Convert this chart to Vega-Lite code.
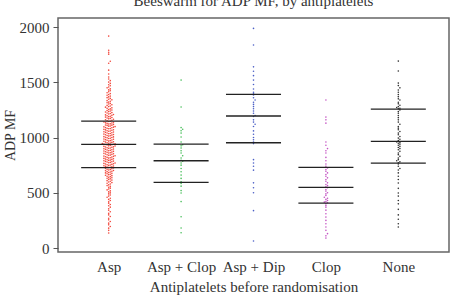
{
  "$schema": "https://vega.github.io/schema/vega-lite/v6.json",
  "width": 391,
  "height": 234,
  "autosize": {"type": "none"},
  "padding": {"left": 58, "top": 18, "right": 2, "bottom": 46},
  "background": "white",
  "title": {
    "text": "Beeswarm for ADP MF, by antiplatelets",
    "font": "Liberation Serif",
    "fontSize": 15,
    "fontWeight": "normal",
    "color": "#333",
    "anchor": "middle",
    "frame": "group",
    "baseline": "alphabetic",
    "offset": -3
  },
  "config": {
    "view": {"stroke": "#666", "strokeWidth": 1.5},
    "axis": {
      "labelFont": "Liberation Serif",
      "titleFont": "Liberation Serif",
      "labelColor": "#333",
      "titleColor": "#333",
      "titleFontWeight": "normal",
      "grid": false
    }
  },
  "datasets": {
    "pts": [
      {"g":"Asp","v":1918},{"g":"Asp","v":1790},{"g":"Asp","v":1772},{"g":"Asp","v":1755},{"g":"Asp","v":1690},{"g":"Asp","v":1672},{"g":"Asp","v":1610},{"g":"Asp","v":1575},{"g":"Asp","v":1548},{"g":"Asp","v":1530},
      {"g":"Asp","v":1515},{"g":"Asp","v":1502},{"g":"Asp","v":1490},{"g":"Asp","v":1478},{"g":"Asp","v":1469},{"g":"Asp","v":1458},{"g":"Asp","v":1450},{"g":"Asp","v":1440},{"g":"Asp","v":1431},{"g":"Asp","v":1424},
      {"g":"Asp","v":1415},{"g":"Asp","v":1406},{"g":"Asp","v":1398},{"g":"Asp","v":1390},{"g":"Asp","v":1383},{"g":"Asp","v":1375},{"g":"Asp","v":1368},{"g":"Asp","v":1361},{"g":"Asp","v":1354},{"g":"Asp","v":1347},
      {"g":"Asp","v":1341},{"g":"Asp","v":1334},{"g":"Asp","v":1328},{"g":"Asp","v":1321},{"g":"Asp","v":1315},{"g":"Asp","v":1309},{"g":"Asp","v":1303},{"g":"Asp","v":1297},{"g":"Asp","v":1291},{"g":"Asp","v":1286},
      {"g":"Asp","v":1280},{"g":"Asp","v":1275},{"g":"Asp","v":1269},{"g":"Asp","v":1264},{"g":"Asp","v":1259},{"g":"Asp","v":1254},{"g":"Asp","v":1249},{"g":"Asp","v":1244},{"g":"Asp","v":1240},{"g":"Asp","v":1235},
      {"g":"Asp","v":1231},{"g":"Asp","v":1226},{"g":"Asp","v":1222},{"g":"Asp","v":1218},{"g":"Asp","v":1213},{"g":"Asp","v":1209},{"g":"Asp","v":1205},{"g":"Asp","v":1201},{"g":"Asp","v":1197},{"g":"Asp","v":1193},
      {"g":"Asp","v":1189},{"g":"Asp","v":1185},{"g":"Asp","v":1181},{"g":"Asp","v":1177},{"g":"Asp","v":1173},{"g":"Asp","v":1169},{"g":"Asp","v":1165},{"g":"Asp","v":1161},{"g":"Asp","v":1157},{"g":"Asp","v":1152},
      {"g":"Asp","v":1147},{"g":"Asp","v":1145},{"g":"Asp","v":1141},{"g":"Asp","v":1138},{"g":"Asp","v":1133},{"g":"Asp","v":1131},{"g":"Asp","v":1128},{"g":"Asp","v":1124},{"g":"Asp","v":1122},{"g":"Asp","v":1119},
      {"g":"Asp","v":1114},{"g":"Asp","v":1112},{"g":"Asp","v":1110},{"g":"Asp","v":1105},{"g":"Asp","v":1103},{"g":"Asp","v":1099},{"g":"Asp","v":1097},{"g":"Asp","v":1094},{"g":"Asp","v":1090},{"g":"Asp","v":1088},
      {"g":"Asp","v":1083},{"g":"Asp","v":1081},{"g":"Asp","v":1079},{"g":"Asp","v":1074},{"g":"Asp","v":1071},{"g":"Asp","v":1069},{"g":"Asp","v":1066},{"g":"Asp","v":1062},{"g":"Asp","v":1059},{"g":"Asp","v":1057},
      {"g":"Asp","v":1052},{"g":"Asp","v":1050},{"g":"Asp","v":1047},{"g":"Asp","v":1043},{"g":"Asp","v":1041},{"g":"Asp","v":1036},{"g":"Asp","v":1034},{"g":"Asp","v":1031},{"g":"Asp","v":1028},{"g":"Asp","v":1025},
      {"g":"Asp","v":1022},{"g":"Asp","v":1018},{"g":"Asp","v":1016},{"g":"Asp","v":1013},{"g":"Asp","v":1008},{"g":"Asp","v":1006},{"g":"Asp","v":1003},{"g":"Asp","v":1000},{"g":"Asp","v":997},{"g":"Asp","v":993},
      {"g":"Asp","v":991},{"g":"Asp","v":987},{"g":"Asp","v":984},{"g":"Asp","v":981},{"g":"Asp","v":978},{"g":"Asp","v":975},{"g":"Asp","v":972},{"g":"Asp","v":968},{"g":"Asp","v":966},{"g":"Asp","v":962},
      {"g":"Asp","v":959},{"g":"Asp","v":956},{"g":"Asp","v":953},{"g":"Asp","v":951},{"g":"Asp","v":948},{"g":"Asp","v":945},{"g":"Asp","v":943},{"g":"Asp","v":941},{"g":"Asp","v":939},{"g":"Asp","v":937},
      {"g":"Asp","v":935},{"g":"Asp","v":932},{"g":"Asp","v":929},{"g":"Asp","v":925},{"g":"Asp","v":923},{"g":"Asp","v":920},{"g":"Asp","v":916},{"g":"Asp","v":914},{"g":"Asp","v":911},{"g":"Asp","v":907},
      {"g":"Asp","v":905},{"g":"Asp","v":902},{"g":"Asp","v":898},{"g":"Asp","v":896},{"g":"Asp","v":893},{"g":"Asp","v":889},{"g":"Asp","v":887},{"g":"Asp","v":884},{"g":"Asp","v":880},{"g":"Asp","v":878},
      {"g":"Asp","v":875},{"g":"Asp","v":871},{"g":"Asp","v":868},{"g":"Asp","v":866},{"g":"Asp","v":862},{"g":"Asp","v":860},{"g":"Asp","v":857},{"g":"Asp","v":853},{"g":"Asp","v":851},{"g":"Asp","v":848},
      {"g":"Asp","v":844},{"g":"Asp","v":841},{"g":"Asp","v":839},{"g":"Asp","v":835},{"g":"Asp","v":832},{"g":"Asp","v":830},{"g":"Asp","v":826},{"g":"Asp","v":823},{"g":"Asp","v":820},{"g":"Asp","v":817},
      {"g":"Asp","v":814},{"g":"Asp","v":811},{"g":"Asp","v":808},{"g":"Asp","v":805},{"g":"Asp","v":802},{"g":"Asp","v":799},{"g":"Asp","v":796},{"g":"Asp","v":793},{"g":"Asp","v":790},{"g":"Asp","v":787},
      {"g":"Asp","v":784},{"g":"Asp","v":781},{"g":"Asp","v":778},{"g":"Asp","v":775},{"g":"Asp","v":772},{"g":"Asp","v":769},{"g":"Asp","v":766},{"g":"Asp","v":763},{"g":"Asp","v":760},{"g":"Asp","v":757},
      {"g":"Asp","v":754},{"g":"Asp","v":751},{"g":"Asp","v":748},{"g":"Asp","v":745},{"g":"Asp","v":742},{"g":"Asp","v":739},{"g":"Asp","v":736},{"g":"Asp","v":733},{"g":"Asp","v":730},{"g":"Asp","v":728},
      {"g":"Asp","v":724},{"g":"Asp","v":720},{"g":"Asp","v":717},{"g":"Asp","v":713},{"g":"Asp","v":710},{"g":"Asp","v":706},{"g":"Asp","v":702},{"g":"Asp","v":699},{"g":"Asp","v":695},{"g":"Asp","v":691},
      {"g":"Asp","v":688},{"g":"Asp","v":684},{"g":"Asp","v":680},{"g":"Asp","v":676},{"g":"Asp","v":672},{"g":"Asp","v":668},{"g":"Asp","v":664},{"g":"Asp","v":659},{"g":"Asp","v":655},{"g":"Asp","v":650},
      {"g":"Asp","v":646},{"g":"Asp","v":641},{"g":"Asp","v":636},{"g":"Asp","v":631},{"g":"Asp","v":626},{"g":"Asp","v":621},{"g":"Asp","v":615},{"g":"Asp","v":610},{"g":"Asp","v":604},{"g":"Asp","v":598},
      {"g":"Asp","v":592},{"g":"Asp","v":586},{"g":"Asp","v":579},{"g":"Asp","v":572},{"g":"Asp","v":565},{"g":"Asp","v":558},{"g":"Asp","v":550},{"g":"Asp","v":542},{"g":"Asp","v":534},{"g":"Asp","v":526},
      {"g":"Asp","v":517},{"g":"Asp","v":508},{"g":"Asp","v":499},{"g":"Asp","v":490},{"g":"Asp","v":480},{"g":"Asp","v":470},{"g":"Asp","v":460},{"g":"Asp","v":450},{"g":"Asp","v":440},{"g":"Asp","v":430},
      {"g":"Asp","v":418},{"g":"Asp","v":406},{"g":"Asp","v":394},{"g":"Asp","v":382},{"g":"Asp","v":370},{"g":"Asp","v":356},{"g":"Asp","v":342},{"g":"Asp","v":328},{"g":"Asp","v":314},{"g":"Asp","v":300},
      {"g":"Asp","v":285},{"g":"Asp","v":270},{"g":"Asp","v":255},{"g":"Asp","v":240},{"g":"Asp","v":225},{"g":"Asp","v":210},{"g":"Asp","v":195},{"g":"Asp","v":180},{"g":"Asp","v":160},{"g":"Asp","v":136},

      {"g":"Asp + Clop","v":1520},{"g":"Asp + Clop","v":1276},{"g":"Asp + Clop","v":1090},{"g":"Asp + Clop","v":1075},{"g":"Asp + Clop","v":1062},{"g":"Asp + Clop","v":1040},{"g":"Asp + Clop","v":1005},{"g":"Asp + Clop","v":960},
      {"g":"Asp + Clop","v":935},{"g":"Asp + Clop","v":925},{"g":"Asp + Clop","v":905},{"g":"Asp + Clop","v":880},{"g":"Asp + Clop","v":860},{"g":"Asp + Clop","v":835},{"g":"Asp + Clop","v":815},{"g":"Asp + Clop","v":795},
      {"g":"Asp + Clop","v":785},{"g":"Asp + Clop","v":770},{"g":"Asp + Clop","v":750},{"g":"Asp + Clop","v":720},{"g":"Asp + Clop","v":690},{"g":"Asp + Clop","v":660},{"g":"Asp + Clop","v":630},{"g":"Asp + Clop","v":600},
      {"g":"Asp + Clop","v":585},{"g":"Asp + Clop","v":560},{"g":"Asp + Clop","v":520},{"g":"Asp + Clop","v":498},{"g":"Asp + Clop","v":420},{"g":"Asp + Clop","v":283},{"g":"Asp + Clop","v":181},{"g":"Asp + Clop","v":138},

      {"g":"Asp + Dip","v":1988},{"g":"Asp + Dip","v":1837},{"g":"Asp + Dip","v":1640},{"g":"Asp + Dip","v":1600},{"g":"Asp + Dip","v":1560},{"g":"Asp + Dip","v":1520},{"g":"Asp + Dip","v":1480},{"g":"Asp + Dip","v":1439},{"g":"Asp + Dip","v":1410},{"g":"Asp + Dip","v":1395},
      {"g":"Asp + Dip","v":1385},{"g":"Asp + Dip","v":1360},{"g":"Asp + Dip","v":1340},{"g":"Asp + Dip","v":1320},{"g":"Asp + Dip","v":1300},{"g":"Asp + Dip","v":1280},{"g":"Asp + Dip","v":1260},{"g":"Asp + Dip","v":1240},{"g":"Asp + Dip","v":1220},{"g":"Asp + Dip","v":1200},
      {"g":"Asp + Dip","v":1190},{"g":"Asp + Dip","v":1160},{"g":"Asp + Dip","v":1140},{"g":"Asp + Dip","v":1120},{"g":"Asp + Dip","v":1100},{"g":"Asp + Dip","v":1060},{"g":"Asp + Dip","v":1030},{"g":"Asp + Dip","v":1000},{"g":"Asp + Dip","v":980},{"g":"Asp + Dip","v":960},
      {"g":"Asp + Dip","v":945},{"g":"Asp + Dip","v":800},{"g":"Asp + Dip","v":770},{"g":"Asp + Dip","v":740},{"g":"Asp + Dip","v":705},{"g":"Asp + Dip","v":590},{"g":"Asp + Dip","v":545},{"g":"Asp + Dip","v":500},{"g":"Asp + Dip","v":338},{"g":"Asp + Dip","v":63},

      {"g":"Clop","v":1340},{"g":"Clop","v":1185},{"g":"Clop","v":1160},{"g":"Clop","v":1130},{"g":"Clop","v":960},{"g":"Clop","v":930},{"g":"Clop","v":900},{"g":"Clop","v":880},{"g":"Clop","v":860},{"g":"Clop","v":820},{"g":"Clop","v":790},{"g":"Clop","v":760},{"g":"Clop","v":740},
      {"g":"Clop","v":725},{"g":"Clop","v":710},{"g":"Clop","v":695},{"g":"Clop","v":680},{"g":"Clop","v":665},{"g":"Clop","v":650},{"g":"Clop","v":635},{"g":"Clop","v":620},{"g":"Clop","v":605},{"g":"Clop","v":590},{"g":"Clop","v":575},{"g":"Clop","v":565},{"g":"Clop","v":555},
      {"g":"Clop","v":545},{"g":"Clop","v":530},{"g":"Clop","v":515},{"g":"Clop","v":500},{"g":"Clop","v":490},{"g":"Clop","v":475},{"g":"Clop","v":460},{"g":"Clop","v":450},{"g":"Clop","v":440},{"g":"Clop","v":430},{"g":"Clop","v":420},{"g":"Clop","v":415},{"g":"Clop","v":410},
      {"g":"Clop","v":400},{"g":"Clop","v":385},{"g":"Clop","v":370},{"g":"Clop","v":343},{"g":"Clop","v":310},{"g":"Clop","v":280},{"g":"Clop","v":250},{"g":"Clop","v":220},{"g":"Clop","v":190},{"g":"Clop","v":160},{"g":"Clop","v":130},{"g":"Clop","v":110},{"g":"Clop","v":90},

      {"g":"None","v":1692},{"g":"None","v":1602},{"g":"None","v":1493},{"g":"None","v":1470},{"g":"None","v":1450},{"g":"None","v":1430},{"g":"None","v":1410},{"g":"None","v":1390},{"g":"None","v":1370},{"g":"None","v":1350},{"g":"None","v":1340},{"g":"None","v":1320},{"g":"None","v":1305},{"g":"None","v":1292},{"g":"None","v":1280},{"g":"None","v":1272},{"g":"None","v":1265},{"g":"None","v":1260},
      {"g":"None","v":1250},{"g":"None","v":1235},{"g":"None","v":1220},{"g":"None","v":1200},{"g":"None","v":1180},{"g":"None","v":1160},{"g":"None","v":1140},{"g":"None","v":1120},{"g":"None","v":1100},{"g":"None","v":1085},{"g":"None","v":1070},{"g":"None","v":1055},{"g":"None","v":1040},{"g":"None","v":1025},{"g":"None","v":1010},{"g":"None","v":995},{"g":"None","v":985},{"g":"None","v":972},
      {"g":"None","v":960},{"g":"None","v":955},{"g":"None","v":948},{"g":"None","v":940},{"g":"None","v":930},{"g":"None","v":920},{"g":"None","v":910},{"g":"None","v":900},{"g":"None","v":890},{"g":"None","v":875},{"g":"None","v":860},{"g":"None","v":845},{"g":"None","v":830},{"g":"None","v":815},{"g":"None","v":800},{"g":"None","v":790},{"g":"None","v":780},{"g":"None","v":772},
      {"g":"None","v":760},{"g":"None","v":740},{"g":"None","v":720},{"g":"None","v":706},{"g":"None","v":680},{"g":"None","v":650},{"g":"None","v":620},{"g":"None","v":588},{"g":"None","v":540},{"g":"None","v":498},{"g":"None","v":470},{"g":"None","v":430},{"g":"None","v":400},{"g":"None","v":350},{"g":"None","v":300},{"g":"None","v":260},{"g":"None","v":220},{"g":"None","v":190}
    ],
    "stats": [
      {"g":"Asp","q":"Q1","v":727},{"g":"Asp","q":"Median","v":938},{"g":"Asp","q":"Q3","v":1149},
      {"g":"Asp + Clop","q":"Q1","v":594},{"g":"Asp + Clop","q":"Median","v":790},{"g":"Asp + Clop","q":"Q3","v":941},
      {"g":"Asp + Dip","q":"Q1","v":953},{"g":"Asp + Dip","q":"Median","v":1195},{"g":"Asp + Dip","q":"Q3","v":1391},
      {"g":"Clop","q":"Q1","v":407},{"g":"Clop","q":"Median","v":549},{"g":"Clop","q":"Q3","v":730},
      {"g":"None","q":"Q1","v":769},{"g":"None","q":"Median","v":966},{"g":"None","q":"Q3","v":1258}
    ]
  },
  "layer": [
    {
      "data": {"name": "pts"},
      "transform": [
        {"calculate": "indexof(['Asp','Asp + Clop','Asp + Dip','Clop','None'], datum.g) + 1", "as": "i"},
        {"calculate": "floor(datum.v / 22)", "as": "bin"},
        {"window": [{"op": "row_number", "as": "r"}], "groupby": ["g", "bin"], "sort": [{"field": "v"}]},
        {"calculate": "datum.r % 2 == 0 ? datum.r / 2 : -(datum.r - 1) / 2", "as": "slot"},
        {"calculate": "datum.i + datum.slot * 0.022", "as": "xpos"}
      ],
      "mark": {"type": "point", "shape": "circle", "filled": true, "size": 2.6, "opacity": 1},
      "encoding": {
        "x": {
          "field": "xpos", "type": "quantitative",
          "scale": {"domain": [0.3, 5.7], "nice": false, "zero": false},
          "axis": {
            "title": "Antiplatelets before randomisation",
            "values": [1, 2, 3, 4, 5],
            "labelExpr": "['Asp','Asp + Clop','Asp + Dip','Clop','None'][datum.value - 1]",
            "ticks": false, "domain": false,
            "labelFontSize": 15, "labelPadding": 7,
            "titleFontSize": 15, "titlePadding": 5
          }
        },
        "y": {
          "field": "v", "type": "quantitative",
          "scale": {"domain": [-36, 2082], "nice": false, "zero": false},
          "axis": {
            "title": "ADP MF",
            "values": [0, 500, 1000, 1500, 2000],
            "format": "d",
            "domain": false, "tickSize": 5, "tickColor": "#555", "tickWidth": 1,
            "labelFontSize": 15, "labelPadding": 4,
            "titleFontSize": 14, "titlePadding": 2
          }
        },
        "color": {
          "field": "g", "type": "nominal",
          "scale": {
            "domain": ["Asp", "Asp + Clop", "Asp + Dip", "Clop", "None"],
            "range": ["#f2493d", "#45bd58", "#4b5fc6", "#c455c4", "#333333"]
          },
          "legend": null
        }
      }
    },
    {
      "data": {"name": "stats"},
      "transform": [
        {"calculate": "indexof(['Asp','Asp + Clop','Asp + Dip','Clop','None'], datum.g) + 1", "as": "i"},
        {"calculate": "datum.i - 0.38", "as": "x1"},
        {"calculate": "datum.i + 0.38", "as": "x2"}
      ],
      "mark": {"type": "rule", "color": "#222", "strokeWidth": 1.3},
      "encoding": {
        "x": {"field": "x1", "type": "quantitative", "title": "Antiplatelets before randomisation"},
        "x2": {"field": "x2"},
        "y": {"field": "v", "type": "quantitative", "title": "ADP MF"}
      }
    }
  ]
}
